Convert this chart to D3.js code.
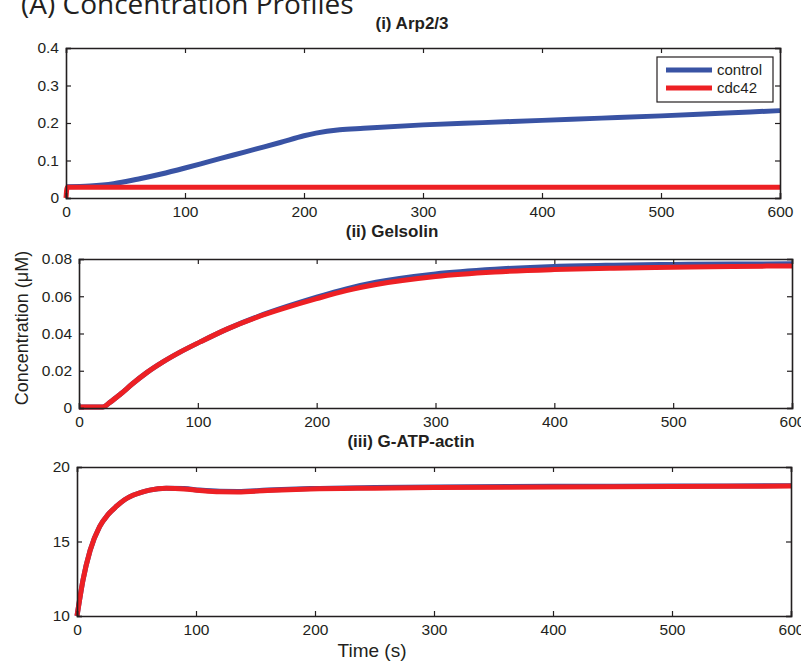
<!DOCTYPE html>
<html><head><meta charset="utf-8">
<script src="https://cdn.jsdelivr.net/npm/d3@7"></script>
<style>body{margin:0;background:#fff}svg{display:block}</style>
</head><body>
<svg id="c" width="801" height="665"></svg>
<script>
// ---- data ----
const seriesNames = ["control", "cdc42"];
const arpTime    = [0, 20, 40, 60, 80, 100, 120, 140, 160, 180, 200, 210, 230, 250, 300, 350, 400, 450, 500, 550, 600];
const arpControl = [0.030, 0.032, 0.038, 0.050, 0.064, 0.080, 0.097, 0.114, 0.131, 0.148, 0.166, 0.173, 0.182, 0.186, 0.195, 0.201, 0.207, 0.213, 0.219, 0.226, 0.233];
const arpCdcTime = [0, 1, 100, 200, 300, 400, 500, 600];
const arpCdc42   = [0, 0.029, 0.029, 0.029, 0.029, 0.029, 0.029, 0.029];

const gelTime    = [0, 10, 20, 26, 35, 45, 57, 70, 85, 102, 125, 150, 175, 200, 225, 250, 300, 350, 400, 450, 500, 550, 600];
const gelControl = [0.0005, 0.0005, 0.0006, 0.003, 0.0075, 0.013, 0.019, 0.0245, 0.0300, 0.0355, 0.0425, 0.0490, 0.0545, 0.0595, 0.0640, 0.0675, 0.0720, 0.0745, 0.0760, 0.0767, 0.0771, 0.0773, 0.0774];
const gelCdc42   = [0.0005, 0.0005, 0.0006, 0.003, 0.0075, 0.013, 0.019, 0.0245, 0.0300, 0.0355, 0.0425, 0.0488, 0.0540, 0.0587, 0.0630, 0.0663, 0.0706, 0.0730, 0.0743, 0.0751, 0.0756, 0.0760, 0.0763];

const actTime    = [0, 2, 5, 11, 19, 26, 33, 40, 47, 54, 61, 75, 90, 103, 120, 135, 160, 196, 250, 300, 400, 500, 600];
const actControl = [10.0, 11.0, 12.4, 14.4, 16.0, 16.8, 17.35, 17.8, 18.1, 18.3, 18.45, 18.58, 18.55, 18.45, 18.37, 18.36, 18.45, 18.55, 18.62, 18.66, 18.70, 18.72, 18.75];
const actCdc42   = [10.0, 11.0, 12.4, 14.4, 16.0, 16.8, 17.35, 17.8, 18.1, 18.3, 18.45, 18.57, 18.53, 18.43, 18.34, 18.33, 18.42, 18.52, 18.58, 18.62, 18.66, 18.69, 18.72];

const xTicks   = [0, 100, 200, 300, 400, 500, 600];
const arpTicks = [0, 0.1, 0.2, 0.3, 0.4];
const gelTicks = [0, 0.02, 0.04, 0.06, 0.08];
const actTicks = [10, 15, 20];

const titles = ["(A) Concentration Profiles", "(i) Arp2/3", "(ii) Gelsolin", "(iii) G-ATP-actin"];
const yLabel = "Concentration (\u03bcM)";
const xLabel = "Time (s)";

// ---- drawing ----
const svg = d3.select("#c");
const BLUE = "#3953a4", RED = "#ed2024", AX = "#231f20";
const FONT = "'Liberation Sans', Arial, Helvetica, sans-serif";
const TICKFS = 15.5;

svg.append("text").attr("x", 21).attr("y", 14)
  .attr("font-family", "'Open Sans', sans-serif").attr("font-size", 28).attr("fill", AX)
  .text(titles[0]);

function panel(cfg) {
  const x = d3.scaleLinear().domain([0, 600]).range([cfg.x0, cfg.x1]);
  const y = d3.scaleLinear().domain(cfg.ydom).range([cfg.y1, cfg.y0]);
  const g = svg.append("g");
  const tl = 5;
  const line = (xs, ys) => d3.line().x((d, i) => x(xs[i])).y((d, i) => y(ys[i])).curve(d3.curveMonotoneX)(ys);
  cfg.series.forEach(s => {
    g.append("path").attr("d", line(s.t, s.v)).attr("fill", "none")
      .attr("stroke", s.c).attr("stroke-width", 5).attr("stroke-linejoin", "round");
  });
  const bottom = d3.axisBottom(x).tickValues(xTicks).tickSize(-tl).tickPadding(tl + 3).tickFormat(d3.format("d"));
  const top = d3.axisTop(x).tickValues(xTicks).tickSize(-tl).tickFormat("");
  const left = d3.axisLeft(y).tickValues(cfg.yticks).tickSize(-tl).tickPadding(tl + 2).tickFormat(cfg.fmt);
  const right = d3.axisRight(y).tickValues(cfg.yticks).tickSize(-tl).tickFormat("");
  const ab = g.append("g").attr("transform", `translate(0,${cfg.y1})`).call(bottom);
  const at = g.append("g").attr("transform", `translate(0,${cfg.y0})`).call(top);
  const al = g.append("g").attr("transform", `translate(${cfg.x0},0)`).call(left);
  const ar = g.append("g").attr("transform", `translate(${cfg.x1},0)`).call(right);
  [ab, at, al, ar].forEach(a => {
    a.select(".domain").attr("stroke", AX).attr("stroke-width", 1.6);
    a.selectAll(".tick line").attr("stroke", AX).attr("stroke-width", 1.2);
    a.selectAll("text").attr("font-family", FONT).attr("font-size", TICKFS).attr("fill", AX);
  });
  g.append("text").attr("x", cfg.tx).attr("y", cfg.ty).attr("text-anchor", "middle")
    .attr("font-family", FONT).attr("font-weight", "bold").attr("font-size", 17).attr("fill", AX)
    .text(cfg.title);
  return {x, y, g};
}

panel({id: 1, x0: 66, x1: 780, y0: 48, y1: 198, ydom: [0, 0.4], yticks: arpTicks,
  fmt: d => d === 0 ? "0" : d3.format(".1f")(d), title: titles[1], tx: 412, ty: 29,
  series: [{t: arpTime, v: arpControl, c: BLUE}, {t: arpCdcTime, v: arpCdc42, c: RED}]});
panel({id: 2, x0: 79, x1: 792, y0: 259, y1: 408, ydom: [0, 0.08], yticks: gelTicks,
  fmt: d => d === 0 ? "0" : d3.format(".2f")(d), title: titles[2], tx: 392, ty: 237,
  series: [{t: gelTime, v: gelControl, c: BLUE}, {t: gelTime, v: gelCdc42, c: RED}]});
panel({id: 3, x0: 77, x1: 791, y0: 467, y1: 616, ydom: [10, 20], yticks: actTicks,
  fmt: d3.format("d"), title: titles[3], tx: 411, ty: 447,
  series: [{t: actTime, v: actControl, c: BLUE}, {t: actTime, v: actCdc42, c: RED}]});

// legend
const lg = svg.append("g");
lg.append("rect").attr("x", 657).attr("y", 57).attr("width", 116).attr("height", 45)
  .attr("fill", "#fff").attr("stroke", AX).attr("stroke-width", 1.2);
seriesNames.forEach((n, i) => {
  const yy = 70 + i * 18;
  lg.append("line").attr("x1", 666).attr("x2", 712).attr("y1", yy).attr("y2", yy)
    .attr("stroke", i === 0 ? BLUE : RED).attr("stroke-width", 5);
  lg.append("text").attr("x", 717).attr("y", yy + 5).attr("font-family", FONT)
    .attr("font-size", 15).attr("fill", AX).text(n);
});

// axis labels
svg.append("text").attr("transform", "translate(28,328) rotate(-90)").attr("text-anchor", "middle")
  .attr("font-family", FONT).attr("font-size", 18).attr("fill", AX).text(yLabel);
svg.append("text").attr("x", 372).attr("y", 657).attr("text-anchor", "middle")
  .attr("font-family", FONT).attr("font-size", 19).attr("fill", AX).text(xLabel);
</script>
</body></html>
